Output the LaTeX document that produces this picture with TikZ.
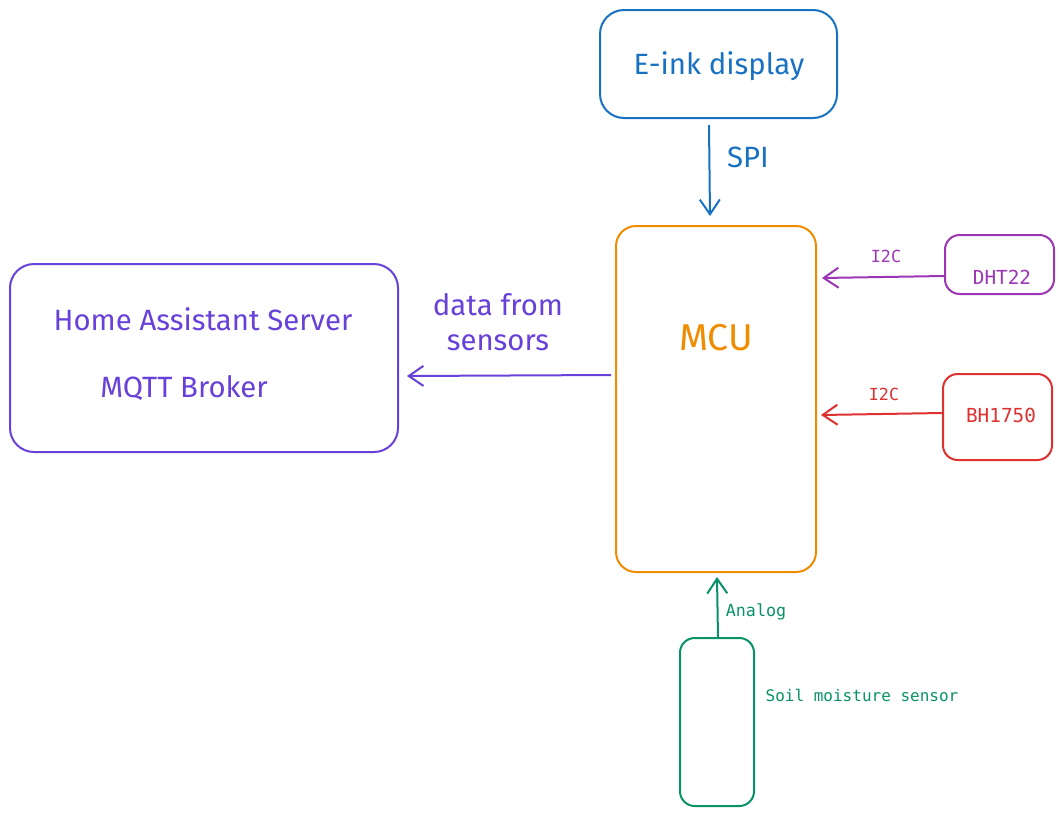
\documentclass[tikz,border=0pt]{standalone}
\usepackage{fontspec}
\setmainfont{Fira Sans}
\newfontfamily\smallfont{DejaVu Sans Mono}
\usetikzlibrary{arrows.meta}
\definecolor{cblue}{HTML}{1971C2}
\definecolor{corange}{HTML}{F08C00}
\definecolor{cviolet}{HTML}{6741D9}
\definecolor{cpurple}{HTML}{9C36B5}
\definecolor{cred}{HTML}{E03131}
\definecolor{cgreen}{HTML}{099268}
\tikzset{
  box/.style={draw, line width=1.5pt, rounded corners=#1, inner sep=0pt},
  box/.default=18pt,
  conn/.style={line width=1.5pt, -{Straight Barb[length=11pt, width=15pt, line width=1.5pt]}},
  bigtxt/.style={font=\fontsize{22}{26}\selectfont},
  smalltxt/.style={font=\smallfont\fontsize{12.5}{15}\selectfont},
  nametxt/.style={font=\smallfont\fontsize{14.5}{17}\selectfont},
}
\begin{document}
\begin{tikzpicture}[x=0.75pt, y=-0.75pt]
\useasboundingbox[fill=white] (0,0) rectangle (1064,818);

% E-ink
\draw[box=18pt, cblue] (600,10) rectangle (837,118);
\node[bigtxt, text=cblue] (eink) at (719,66) {E-ink display};
\coordinate (einkb) at (709,125);

% MCU
\draw[box=15pt, corange] (616,226) rectangle (816,572);
\node[font=\fontsize{28}{32}\selectfont, text=corange] (mcu) at (716,338) {MCU};
\coordinate (mcut) at (710,216);
\coordinate (mcul) at (611,375);
\coordinate (mcur1) at (822,278);
\coordinate (mcur2) at (821,415);
\coordinate (mcub) at (717,577);

% SPI
\draw[conn, cblue] (einkb) -- (mcut);
\node[bigtxt, text=cblue] (spi) at (748,157) {SPI};

% DHT22
\draw[box=11pt, cpurple] (945,235) rectangle (1054,294);
\node[nametxt, text=cpurple] (dht) at (1002,277) {DHT22};
\coordinate (dhtl) at (944,276);
\draw[conn, cpurple] (dhtl) -- (mcur1);
\node[smalltxt, text=cpurple] (i2ca) at (886,256) {I2C};

% BH1750
\draw[box=11pt, cred] (943,374) rectangle (1052,460);
\node[nametxt, text=cred] (bh) at (1001,415) {BH1750};
\coordinate (bhl) at (942,413);
\draw[conn, cred] (bhl) -- (mcur2);
\node[smalltxt, text=cred] (i2cb) at (884,394) {I2C};

% Home Assistant
\draw[box=18pt, cviolet] (10,264) rectangle (398,452);
\node[bigtxt, text=cviolet] (has) at (203,319) {Home Assistant Server};
\node[bigtxt, text=cviolet] (mqtt) at (184,388) {MQTT Broker};
\coordinate (har) at (407,376);
\draw[conn, cviolet] (mcul) -- (har);
\node[text=cviolet, align=center, font=\fontsize{22}{26}\selectfont] (data) at (498,322) {data from\\sensors};

% Soil
\draw[box=11pt, cgreen] (680,638) rectangle (754,806);
\node[smalltxt, font=\smallfont\fontsize{12}{14}\selectfont, text=cgreen] (soil) at (862,695) {Soil moisture sensor};
\coordinate (soilt) at (718,638);
\draw[conn, cgreen] (soilt) -- (mcub);
\node[smalltxt, text=cgreen] (analog) at (756,612) {Analog};
\end{tikzpicture}
\end{document}
